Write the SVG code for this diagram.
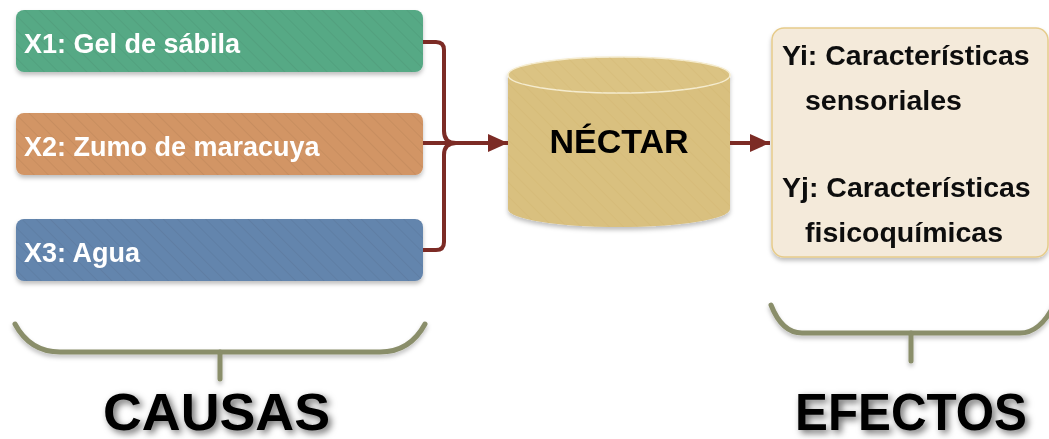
<svg xmlns="http://www.w3.org/2000/svg" width="1049" height="439" viewBox="0 0 1049 439">
<defs>
<style>
.lbl{font-family:"Liberation Sans",Arial,sans-serif;font-weight:bold;}
.w{fill:#ffffff;font-size:27px;}
.k{fill:#111111;font-size:28.5px;}
.big{fill:#000000;font-size:52px;font-family:"Liberation Sans",Arial,sans-serif;font-weight:bold;}
.conn{fill:none;stroke:#7C2B25;stroke-width:4;}
.brace{fill:none;stroke:#8A8E6B;stroke-width:5;stroke-linecap:round;}
</style>
<pattern id="hatch" patternUnits="userSpaceOnUse" width="10" height="10" patternTransform="rotate(-45)">
<line x1="0" y1="0" x2="0" y2="10" stroke="#000000" stroke-opacity="0.05" stroke-width="2"/>
</pattern>
<pattern id="hatch2" patternUnits="userSpaceOnUse" width="10" height="10" patternTransform="rotate(-45)">
<line x1="0" y1="0" x2="0" y2="10" stroke="#C9A85A" stroke-opacity="0.25" stroke-width="1.5"/>
</pattern>
<filter id="sh" x="-10%" y="-20%" width="120%" height="150%">
<feDropShadow dx="0" dy="3" stdDeviation="2" flood-color="#000" flood-opacity="0.25"/>
</filter>
<filter id="tsh" x="-10%" y="-30%" width="120%" height="160%">
<feDropShadow dx="3" dy="3" stdDeviation="3.5" flood-color="#000" flood-opacity="0.6"/>
</filter>
<marker id="ah" markerUnits="userSpaceOnUse" markerWidth="20" markerHeight="20" refX="20" refY="10" orient="auto">
<path d="M0,1 L20,10 L0,19 Z" fill="#7C2B25"/>
</marker>
</defs>

<g id="x1" filter="url(#sh)">
<rect x="16" y="10" width="407" height="62" rx="8" fill="#56A985"/>
<rect x="16" y="10" width="407" height="62" rx="8" fill="url(#hatch)"/>
<text class="lbl w" x="24" y="53">X1: Gel de sábila</text>
</g>
<g id="x2" filter="url(#sh)">
<rect x="16" y="113" width="407" height="62" rx="8" fill="#D29565"/>
<rect x="16" y="113" width="407" height="62" rx="8" fill="url(#hatch)"/>
<text class="lbl w" x="24" y="156">X2: Zumo de maracuya</text>
</g>
<g id="x3" filter="url(#sh)">
<rect x="16" y="219" width="407" height="62" rx="8" fill="#6485AD"/>
<rect x="16" y="219" width="407" height="62" rx="8" fill="url(#hatch)"/>
<text class="lbl w" x="24" y="262">X3: Agua</text>
</g>

<g id="nectar" filter="url(#sh)">
<path d="M508,75 L508,209 A111,18 0 0 0 730,209 L730,75 A111,18 0 0 0 508,75 Z" fill="#D9C07F"/>
<path d="M508,75 L508,209 A111,18 0 0 0 730,209 L730,75 A111,18 0 0 0 508,75 Z" fill="url(#hatch2)"/>
<ellipse cx="619" cy="75" rx="111" ry="18" fill="#DBC383" stroke="#F5ECCF" stroke-width="1.5"/>
<ellipse cx="619" cy="75" rx="111" ry="18" fill="url(#hatch2)"/>
<text class="lbl" x="619" y="153" text-anchor="middle" font-size="34" fill="#000000">NÉCTAR</text>
</g>

<g id="efectos-box" filter="url(#sh)">
<rect x="772" y="28" width="276" height="229" rx="12" fill="#F4EADA" stroke="#E6CB8A" stroke-width="1.5"/>
<text class="lbl k" x="782" y="65">Yi: Características</text>
<text class="lbl k" x="805" y="110">sensoriales</text>
<text class="lbl k" x="782" y="197">Yj: Características</text>
<text class="lbl k" x="805" y="242">fisicoquímicas</text>
</g>

<g id="connectors">
<path class="conn" d="M423,42 L436,42 Q444,42 444,50 L444,131 Q444,143 456,143"/>
<path class="conn" d="M423,250 L436,250 Q444,250 444,242 L444,155 Q444,143 456,143"/>
<path class="conn" d="M423,143 L508,143" marker-end="url(#ah)"/>
<path class="conn" d="M730,143 L770,143" marker-end="url(#ah)"/>
</g>

<g id="causas" filter="url(#sh)">
<path class="brace" d="M15,324 Q30,352 60,352 L380,352 Q410,352 425,324"/>
<path class="brace" d="M220,352 L220,379"/>
</g>
<g id="efectos" filter="url(#sh)">
<path class="brace" d="M771,305 Q782,333 802,333 L1020,333 Q1040,333 1054,305"/>
<path class="brace" d="M911,333 L911,361"/>
</g>

<text class="big" x="103" y="430" textLength="227" lengthAdjust="spacingAndGlyphs" filter="url(#tsh)">CAUSAS</text>
<text class="big" x="795" y="430" textLength="232" lengthAdjust="spacingAndGlyphs" filter="url(#tsh)">EFECTOS</text>
</svg>
